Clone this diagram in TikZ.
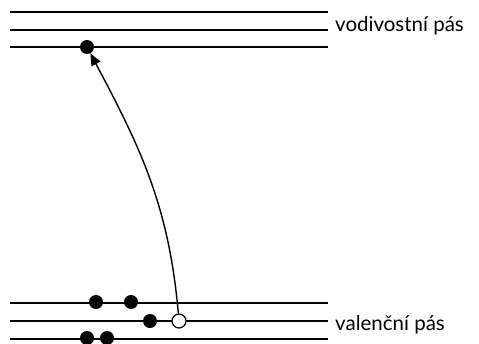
\documentclass[tikz,border=0pt]{standalone}
\usepackage{fontspec}
\setmainfont{Lato}
\usetikzlibrary{arrows.meta}
\begin{document}
\begin{tikzpicture}[x=1pt,y=-1pt,
  band/.style={line width=2pt},
  el/.style={circle,fill=black,inner sep=0pt,minimum size=14pt},
  hole/.style={circle,draw=black,fill=white,line width=1.2pt,inner sep=0pt,minimum size=14pt},
  lbl/.style={anchor=west,inner sep=0pt,font=\fontsize{20.5}{22}\selectfont}]
\useasboundingbox (0,0) rectangle (479,343);
\foreach \y/\n in {12/t1,30/t2,47/t3,303/b1,321/b2,339/b3}{
  \coordinate (\n l) at (10,\y);
  \coordinate (\n r) at (328,\y);
  \draw[band] (\n l) -- (\n r);
}
\node[lbl] (cond) at (335,26) {vodivostní pás};
\node[lbl] (val) at (335,325) {valenční pás};
\node[el] (e0) at (87,47) {};
\node[el] (e1) at (96,302) {};
\node[el] (e2) at (131,302) {};
\node[el] (e3) at (150,321) {};
\node[hole] (h) at (179,321) {};
\node[el] (e4) at (87,338) {};
\node[el] (e5) at (107,338) {};
\draw[line width=1.4pt,-{Triangle[length=12pt,width=10pt]}] (h) to[out=95,in=-62] (e0);
\end{tikzpicture}
\end{document}
